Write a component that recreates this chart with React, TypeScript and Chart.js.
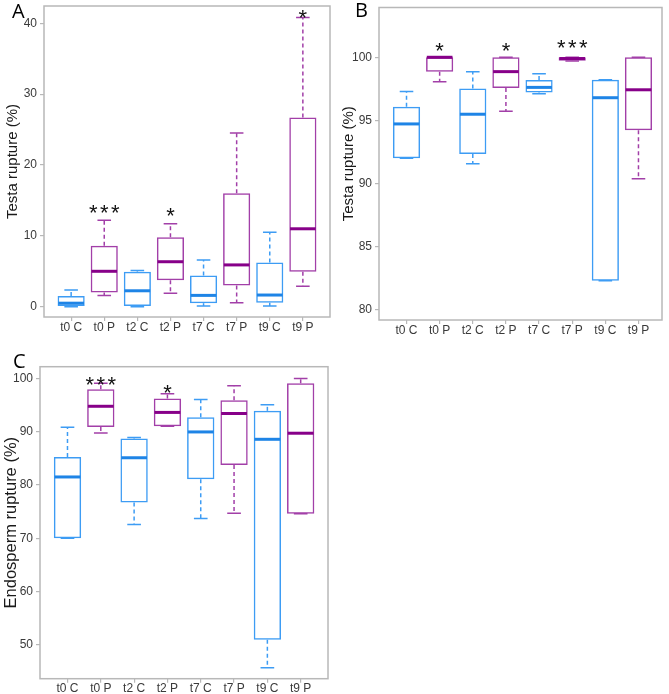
import React, { useEffect, useRef } from 'react';
import { Chart, registerables } from 'chart.js';
Chart.register(...registerables);

const categories = ['t0 C', 't0 P', 't2 C', 't2 P', 't7 C', 't7 P', 't9 C', 't9 P'];
const groups = ['C', 'P', 'C', 'P', 'C', 'P', 'C', 'P'];

// Panel A – Testa rupture (%)
const aMin = [0.0, 1.6, 0.0, 1.9, 0.1, 0.55, 0.1, 2.9];
const aQ1 = [0.1, 2.0, 0.1, 3.75, 0.5, 3.0, 0.55, 4.95];
const aMed = [0.5, 5.0, 2.25, 6.35, 1.6, 5.9, 1.65, 11.0];
const aQ3 = [1.5, 8.6, 4.95, 9.8, 4.4, 16.0, 6.25, 26.7];
const aMax = [2.35, 12.2, 5.1, 11.7, 6.6, 24.5, 10.5, 40.8];
const aStars = ['', '***', '', '*', '', '', '', '*'];
const aStarY = [0, 14.1, 0, 13.55, 0, 0, 0, 41.6];
const aTicks = [0, 10, 20, 30, 40];

// Panel B – Testa rupture (%)
const bMin = [91.98, 98.06, 91.55, 95.72, 97.1, 99.7, 82.26, 90.36];
const bQ1 = [91.98, 98.86, 92.32, 97.56, 97.21, 99.72, 82.26, 94.21];
const bMed = [94.71, 100.0, 95.48, 98.86, 97.61, 99.9, 96.79, 97.42];
const bQ3 = [96.07, 100.0, 97.53, 100.0, 98.19, 100.0, 98.22, 100.0];
const bMax = [97.29, 100.0, 98.86, 100.0, 98.7, 100.0, 98.22, 100.0];
const bStars = ['', '*', '', '*', '', '***', '', ''];
const bStarY = [0, 100.98, 0, 100.98, 0, 101.17, 0, 0];
const bTicks = [80, 85, 90, 95, 100];

// Panel C – Endosperm rupture (%)
const cMin = [70.0, 89.75, 72.6, 91.0, 73.7, 74.7, 45.75, 74.6];
const cQ1 = [70.0, 90.88, 76.7, 91.0, 81.06, 83.75, 51.0, 74.6];
const cMed = [81.5, 94.75, 85.1, 93.6, 89.94, 93.4, 88.56, 89.7];
const cQ3 = [85.25, 97.94, 88.7, 96.2, 92.7, 95.9, 93.9, 99.06];
const cMax = [90.8, 99.06, 88.9, 97.1, 96.0, 98.6, 95.06, 99.94];
const cStars = ['', '***', '', '*', '', '', '', ''];
const cStarY = [0, 99.8, 0, 98.4, 0, 0, 0, 0];
const cTicks = [50, 60, 70, 80, 90, 100];

const FONT = '"Liberation Sans", Arial, Helvetica, sans-serif';
const BLUE_LINE = '#3d9cf4';
const BLUE_MED = '#1e84e6';
const PURPLE_LINE = '#a23fa8';
const PURPLE_MED = '#870089';
const FRAME = '#b8b8b8';
const TICK_TEXT = '#3a3a3a';

type PanelProps = {
  min: number[]; q1: number[]; med: number[]; q3: number[]; max: number[];
  stars: string[]; starY: number[]; ticks: number[];
  yMin: number; yMax: number; xMin: number; xMax: number;
  title: string; titleSize: number;
  left: number; top: number; width: number; height: number;
  padTop: number; padRight: number; yWidth: number; xHeight: number; titlePad: number;
};

function Panel(p: PanelProps) {
  const ref = useRef<HTMLCanvasElement | null>(null);
  useEffect(() => {
    if (!ref.current) return;
    const extras = {
      id: 'boxExtras',
      beforeDatasetsDraw(chart: any) {
        const { ctx, chartArea } = chart;
        ctx.save();
        ctx.strokeStyle = FRAME;
        ctx.lineWidth = 1.5;
        ctx.strokeRect(chartArea.left, chartArea.top, chartArea.right - chartArea.left, chartArea.bottom - chartArea.top);
        ctx.restore();
      },
      afterDatasetsDraw(chart: any) {
        const { ctx } = chart;
        const xs = chart.scales.x;
        const ys = chart.scales.y;
        const meta = chart.getDatasetMeta(0);
        ctx.save();
        categories.forEach((_, i) => {
          const isC = groups[i] === 'C';
          const line = isC ? BLUE_LINE : PURPLE_LINE;
          const medC = isC ? BLUE_MED : PURPLE_MED;
          const cx = xs.getPixelForValue(i + 1);
          const w = meta.data[i].width;
          const half = w / 2 - 0.75;
          const cap = w / 4;
          const yq1 = ys.getPixelForValue(p.q1[i]);
          const yq3 = ys.getPixelForValue(p.q3[i]);
          const ymin = ys.getPixelForValue(p.min[i]);
          const ymax = ys.getPixelForValue(p.max[i]);
          const ymed = ys.getPixelForValue(p.med[i]);
          ctx.strokeStyle = line;
          ctx.lineWidth = 1.5;
          ctx.setLineDash([4, 3]);
          if (p.max[i] > p.q3[i]) {
            ctx.beginPath(); ctx.moveTo(cx, yq3); ctx.lineTo(cx, ymax); ctx.stroke();
          }
          if (p.min[i] < p.q1[i]) {
            ctx.beginPath(); ctx.moveTo(cx, yq1); ctx.lineTo(cx, ymin); ctx.stroke();
          }
          ctx.setLineDash([]);
          ctx.beginPath();
          ctx.moveTo(cx - cap, ymax); ctx.lineTo(cx + cap, ymax);
          ctx.moveTo(cx - cap, ymin); ctx.lineTo(cx + cap, ymin);
          ctx.stroke();
          ctx.strokeStyle = medC;
          ctx.lineWidth = 3;
          ctx.beginPath(); ctx.moveTo(cx - half, ymed); ctx.lineTo(cx + half, ymed); ctx.stroke();
          if (p.stars[i]) {
            const fs = 22;
            ctx.font = `${fs}px ${FONT}`;
            ctx.fillStyle = '#111';
            ctx.textAlign = 'center';
            ctx.textBaseline = 'alphabetic';
            const sp = p.stars[i].length > 1 ? 2.4 : 0;
            (ctx as any).letterSpacing = `${sp}px`;
            ctx.fillText(p.stars[i], cx + sp / 2, ys.getPixelForValue(p.starY[i]) + 0.58 * fs);
            (ctx as any).letterSpacing = '0px';
          }
        });
        ctx.restore();
      },
    };
    const chart = new Chart(ref.current, {
      type: 'bar',
      data: {
        datasets: [{
          data: categories.map((_, i) => ({ x: i + 1, y: [p.q1[i], p.q3[i]] })) as any,
          backgroundColor: 'rgba(0,0,0,0)',
          borderColor: groups.map(g => (g === 'C' ? BLUE_LINE : PURPLE_LINE)),
          borderWidth: 1.5,
          borderSkipped: false,
          barPercentage: 0.82,
          categoryPercentage: 1,
        }],
      },
      options: {
        animation: false,
        responsive: false,
        maintainAspectRatio: false,
        events: [],
        layout: { padding: { left: 0, top: p.padTop, right: p.padRight, bottom: 0 } },
        plugins: { legend: { display: false }, tooltip: { enabled: false }, title: { display: false } },
        scales: {
          x: {
            type: 'linear',
            min: p.xMin,
            max: p.xMax,
            bounds: 'data',
            offset: false,
            afterBuildTicks: (s: any) => { s.ticks = categories.map((_, i) => ({ value: i + 1 })); },
            afterFit: (s: any) => { s.height = p.xHeight; s.paddingLeft = 0; s.paddingRight = 0; s.paddingTop = 0; s.paddingBottom = 0; },
            ticks: {
              autoSkip: false, maxRotation: 0, minRotation: 0, padding: -1,
              color: TICK_TEXT, font: { family: FONT, size: 12 },
              callback: (_v: any, idx: number) => categories[idx],
            },
            grid: { offset: false, drawOnChartArea: false, drawTicks: true, tickLength: 4, color: FRAME, lineWidth: 1.2 },
            border: { display: false },
          },
          y: {
            type: 'linear',
            min: p.yMin,
            max: p.yMax,
            bounds: 'data',
            afterBuildTicks: (s: any) => { s.ticks = p.ticks.map(v => ({ value: v })); },
            afterFit: (s: any) => { s.width = p.yWidth; s.paddingLeft = 0; s.paddingRight = 0; s.paddingTop = 0; s.paddingBottom = 0; },
            ticks: { padding: 3, color: TICK_TEXT, font: { family: FONT, size: 12 } },
            grid: { drawOnChartArea: false, drawTicks: true, tickLength: 4, color: FRAME, lineWidth: 1.2 },
            border: { display: false },
            title: { display: true, text: p.title, color: '#1a1a1a', font: { family: FONT, size: p.titleSize }, padding: { top: p.titlePad, bottom: 0 } },
          },
        },
      } as any,
      plugins: [extras],
    });
    return () => chart.destroy();
  }, []);
  return (
    <canvas
      ref={ref}
      width={p.width}
      height={p.height}
      style={{ position: 'absolute', left: p.left, top: p.top, width: p.width, height: p.height }}
    />
  );
}

const letterStyle: React.CSSProperties = {
  position: 'absolute', fontFamily: '"Open Sans", "Noto Sans", sans-serif', fontSize: 20, lineHeight: '20px', color: '#000',
};

export default function App() {
  return (
    <div style={{ position: 'absolute', left: 0, top: 0, width: 669, height: 694, background: '#fff', overflow: 'hidden' }}>
      <Panel min={aMin} q1={aQ1} med={aMed} q3={aQ3} max={aMax} stars={aStars} starY={aStarY} ticks={aTicks}
        yMin={-1.45} yMax={42.44} xMin={0.18} xMax={8.82} title="Testa rupture (%)" titleSize={15}
        left={0} top={0} width={335} height={345} padTop={6} padRight={5} yWidth={44} xHeight={28} titlePad={4} />
      <Panel min={bMin} q1={bQ1} med={bMed} q3={bQ3} max={bMax} stars={bStars} starY={bStarY} ticks={bTicks}
        yMin={79.15} yMax={103.95} xMin={0.17} xMax={8.71} title="Testa rupture (%)" titleSize={15}
        left={335} top={0} width={334} height={345} padTop={7.5} padRight={7} yWidth={44} xHeight={25} titlePad={5} />
      <Panel min={cMin} q1={cQ1} med={cMed} q3={cQ3} max={cMax} stars={cStars} starY={cStarY} ticks={cTicks}
        yMin={43.68} yMax={102.17} xMin={0.175} xMax={8.82} title="Endosperm rupture (%)" titleSize={16.5}
        left={0} top={345} width={335} height={349} padTop={21.7} padRight={7} yWidth={40} xHeight={15.3} titlePad={1.5} />
      <div style={{ ...letterStyle, left: 12, top: 1 }}>A</div>
      <div style={{ ...letterStyle, left: 355, top: -0.5 }}>B</div>
      <div style={{ ...letterStyle, left: 13, top: 351 }}>C</div>
    </div>
  );
}
